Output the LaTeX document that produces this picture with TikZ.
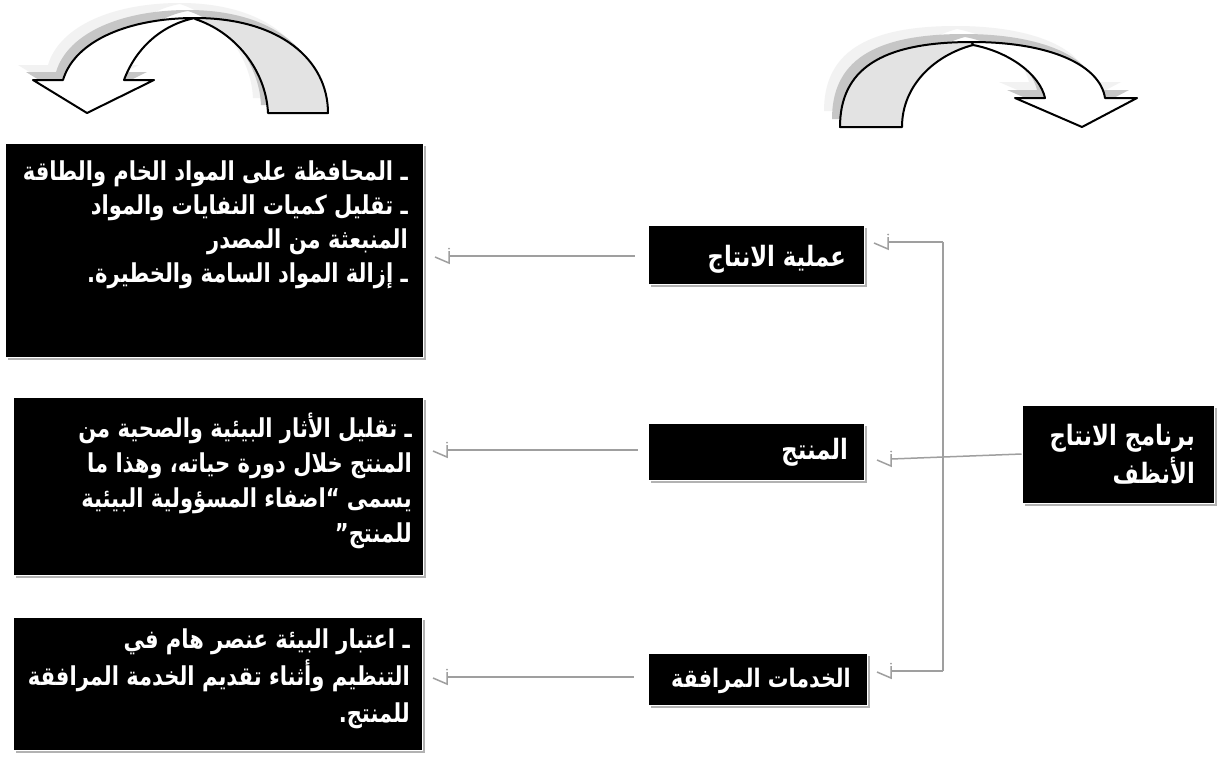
\documentclass[tikz,border=0pt]{standalone}
\usepackage{fontspec}
\usetikzlibrary{shadows}
\newfontfamily\arabicfont[Script=Arabic, FakeStretch=0.81]{DejaVu Sans}
\TeXXeTstate=1
\tikzset{
  box/.style={fill=black, draw=white, line width=1pt, inner sep=0pt,
    drop shadow={shadow xshift=3pt, shadow yshift=-3pt, fill=gray!60, opacity=1}},
  conn/.style={draw=gray!75, line width=1.5pt},
  txt/.style={text=white, align=right, inner sep=0pt},
  oddtip/.pic={\draw[conn] (0,-5) -- (0,7) -- (-14,1); \fill[gray!75] (0,-7.5) circle (1);},
  arrowline/.style={draw=black, line width=2pt, line join=round},
}
\def\LArrow{(33,80) -- (63,80) .. controls (75,40) and (130,18) .. (195,18) .. controls (280,18) and (328,60) .. (328,113) -- (268,113) .. controls (266,70) and (235,32) .. (195,19) .. controls (160,25) and (135,50) .. (124,80) -- (154,80) -- (87,113) -- cycle}
\def\RArrow{(840,127) .. controls (840,70) and (880,42) .. (972,42) .. controls (1050,42) and (1100,65) .. (1105,98) -- (1137,98) -- (1082,127) -- (1015,98) -- (1045,98) .. controls (1040,75) and (1010,52) .. (973,45) .. controls (935,55) and (902,85) .. (902,127) -- cycle}
\begin{document}
\begin{tikzpicture}[x=1pt,y=-1pt]
\useasboundingbox (0,0) rectangle (1220,756);
\fill[white] (0,0) rectangle (1220,756);

% ---- curved arrows ----
\fill[gray!10, shift={(-15,-15)}] \LArrow;
\fill[gray!45, shift={(-7,-8)}] \LArrow;
\filldraw[fill=gray!22, arrowline] (195,18) .. controls (280,18) and (328,60) .. (328,113) -- (268,113) .. controls (266,70) and (235,32) .. (195,19) -- cycle;
\filldraw[fill=white, arrowline] (33,80) -- (63,80) .. controls (75,40) and (130,18) .. (195,18) .. controls (160,25) and (135,50) .. (124,80) -- (154,80) -- (87,113) -- cycle;

\fill[gray!10, shift={(-16,-16)}] \RArrow;
\fill[gray!45, shift={(-8,-8)}] \RArrow;
\filldraw[fill=gray!22, arrowline] (840,127) .. controls (840,70) and (880,42) .. (972,42) -- (973,45) .. controls (935,55) and (902,85) .. (902,127) -- cycle;
\filldraw[fill=white, arrowline] (972,42) .. controls (1050,42) and (1100,65) .. (1105,98) -- (1137,98) -- (1082,127) -- (1015,98) -- (1045,98) .. controls (1040,75) and (1010,52) .. (973,45) -- cycle;

% ---- boxes ----
\node[box, minimum width=418pt, minimum height=214pt] (B1) at (214,250) {};
\node[box, minimum width=410pt, minimum height=178pt] (B2) at (218,486) {};
\node[box, minimum width=409pt, minimum height=133pt] (B3) at (217.5,683.5) {};
\node[box, minimum width=216pt, minimum height=59pt] (M1) at (756,254.5) {};
\node[box, minimum width=216pt, minimum height=57pt] (M2) at (756,451.5) {};
\node[box, minimum width=219pt, minimum height=52pt] (M3) at (757.5,679) {};
\node[box, minimum width=192pt, minimum height=98pt] (R) at (1118,454) {};

% ---- texts ----
\node[txt, anchor=north east, font={\arabicfont\bfseries\fontsize{26}{34}\selectfont}] (T1) at (408,156) {%
\beginR\strut ـ المحافظة على المواد الخام والطاقة\endR\\
\beginR ـ تقليل كميات النفايات والمواد\endR\\
\beginR المنبعثة من المصدر\endR\\
\beginR ـ إزالة المواد السامة والخطيرة.\endR};
\node[txt, anchor=north east, font={\arabicfont\bfseries\fontsize{26}{35}\selectfont}] (T2) at (412,412.5) {%
\beginR\strut ـ تقليل الأثار البيئية والصحية من\endR\\
\beginR المنتج خلال دورة حياته، وهذا ما\endR\\
\beginR يسمى “اضفاء المسؤولية البيئية\endR\\
\beginR للمنتج”\endR};
\node[txt, anchor=north east, font={\arabicfont\bfseries\fontsize{26}{37}\selectfont}] (T3) at (410,622) {%
\beginR\strut ـ اعتبار البيئة عنصر هام في\endR\\
\beginR التنظيم وأثناء تقديم الخدمة المرافقة\endR\\
\beginR للمنتج.\endR};
\node[txt, anchor=base east, font={\arabicfont\bfseries\fontsize{28}{30}\selectfont}] (TM1) at (846,266) {\beginR عملية الانتاج\endR};
\node[txt, anchor=base east, font={\arabicfont\bfseries\fontsize{28}{30}\selectfont}] (TM2) at (848,459) {\beginR المنتج\endR};
\node[txt, anchor=base east, font={\arabicfont\bfseries\fontsize{25.5}{30}\selectfont}] (TM3) at (851,687) {\beginR الخدمات المرافقة\endR};
\node[txt, anchor=north east, font={\arabicfont\bfseries\fontsize{28}{37}\selectfont}] (TR) at (1195,419) {%
\beginR\strut برنامج الانتاج\endR\\
\beginR الأنظف\endR};

% ---- connectors ----
\coordinate (J1) at (943,242);
\coordinate (J3) at (943,671);
\coordinate (t1) at (888,242);
\coordinate (t2) at (891,459);
\coordinate (t3) at (891,671);
\draw[conn] (J1) -- (J3);
\draw[conn] (J1) -- (t1);
\draw[conn] (R.west) -- (t2);
\draw[conn] (J3) -- (t3);
\pic at (t1) {oddtip};
\pic at (t2) {oddtip};
\pic at (t3) {oddtip};

\coordinate (l1) at (449,256);
\coordinate (l2) at (447,450);
\coordinate (l3) at (447,677);
\draw[conn] ([xshift=-13pt]M1.west |- l1) -- (l1);
\draw[conn] ([xshift=-10pt]M2.west |- l2) -- (l2);
\draw[conn] ([xshift=-14pt]M3.west |- l3) -- (l3);
\pic at (l1) {oddtip};
\pic at (l2) {oddtip};
\pic at (l3) {oddtip};
\end{tikzpicture}
\end{document}
